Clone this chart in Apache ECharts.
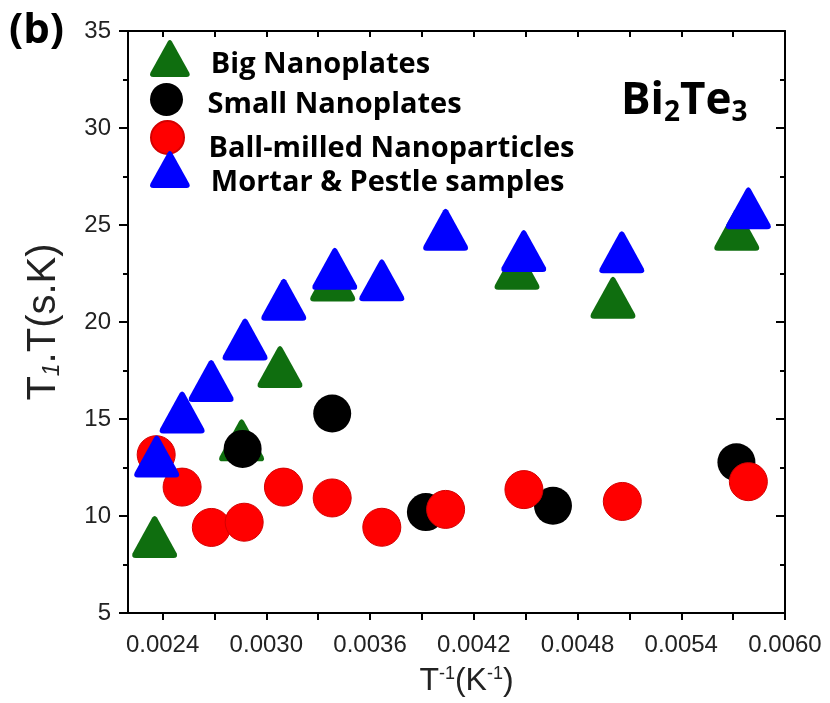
<!DOCTYPE html>
<html>
<head>
<meta charset="utf-8">
<script src="https://cdn.jsdelivr.net/npm/echarts@6/dist/echarts.min.js"></script>
<style>
  html, body { margin: 0; padding: 0; background: #fff; }
  #chart { width: 830px; height: 703px; }
</style>
</head>
<body>
<div id="chart"></div>
<script>
// Inverse temperature (1/K) and T1·T (s·K) for each Bi2Te3 sample
const bigX   = [0.002354, 0.002857, 0.003079, 0.003384, 0.00445, 0.005005, 0.005721];
const bigY   = [8.92, 13.9, 17.68, 22.14, 22.75, 21.25, 24.76];

const smallX = [0.002863, 0.003381, 0.003923, 0.004658, 0.005719];
const smallY = [13.46, 15.28, 10.2, 10.53, 12.77];

const ballX  = [0.002363, 0.002513, 0.002682, 0.002872, 0.003099, 0.003381, 0.003668, 0.004037, 0.00449, 0.005059, 0.005788];
const ballY  = [13.16, 11.49, 9.41, 9.68, 11.49, 10.93, 9.42, 10.34, 11.36, 10.75, 11.77];

const mortarX = [0.002366, 0.002513, 0.002681, 0.002877, 0.003101, 0.003396, 0.003668, 0.004037, 0.004489, 0.005056, 0.005788];
const mortarY = [13.07, 15.34, 16.96, 19.1, 21.15, 22.74, 22.15, 24.76, 23.66, 23.6, 25.86];

const seriesNames = ['Big Nanoplates', 'Small Nanoplates', 'Ball-milled Nanoparticles', 'Mortar & Pestle samples'];

// Axis ticks
const xLabelTicks = [0.0024, 0.0030, 0.0036, 0.0042, 0.0048, 0.0054, 0.0060];
const xAllTicks = [0.0024, 0.0027, 0.0030, 0.0033, 0.0036, 0.0039, 0.0042, 0.0045, 0.0048, 0.0051, 0.0054, 0.0057, 0.0060];

const pairs = (xs, ys) => xs.map((x, i) => [x, ys[i]]);

// Triangle with softened corners
const triPath = 'path://M45,4 Q50,-3 55,4 L97,80 Q101,90 90,90 L10,90 Q-1,90 3,80 Z';

const GREEN = '#0f6e0f', BLACK = '#000000', RED = '#ff0000', BLUE = '#0000ff';
const axisColor = '#000';
const labelFont = 'Liberation Sans, Arial, sans-serif';
const legendFont = 'Open Sans, sans-serif';

// One legend block per entry; `drop` lowers the label below its symbol's centre
// by pairing it with an invisible taller spacer token.
function legendRow(name, icon, top, h, drop) {
  return {
    data: [{ name: name, icon: icon }],
    left: 150, top: top, padding: 0,
    itemWidth: 40, itemHeight: h,
    selectedMode: false,
    formatter: n => '{t|' + n + '}{sp| }',
    textStyle: {
      padding: [0, 0, 0, 16],
      rich: {
        t: { fontFamily: legendFont, fontWeight: 'bold', fontSize: 29, lineHeight: 30, color: '#000', verticalAlign: 'bottom' },
        sp: { fontSize: 2, width: 0, height: 30 + 2 * drop, verticalAlign: 'bottom' }
      }
    }
  };
}

const chart = echarts.init(document.getElementById('chart'), null, { renderer: 'canvas' });

chart.setOption({
  animation: false,
  backgroundColor: '#fff',
  grid: { left: 128, right: 45, top: 31, bottom: 90 },
  legend: [
    legendRow(seriesNames[0], triPath, 40, 37, 6),
    legendRow(seriesNames[1], 'circle', 83, 33, 4.5),
    legendRow(seriesNames[2], 'circle', 120, 33, 11),
    legendRow(seriesNames[3], triPath, 151, 37, 13)
  ],
  graphic: [
    {
      type: 'text', left: 9, top: 10,
      style: { text: '(b)', font: 'bold 42px ' + legendFont, fill: '#000' }
    },
    {
      type: 'text', left: 621, top: 79,
      style: {
        text: '{n|Bi}{s|2}{n|Te}{s|3}',
        rich: {
          n: { fontFamily: legendFont, fontWeight: 'bold', fontSize: 44, fill: '#000', verticalAlign: 'bottom' },
          s: { fontFamily: legendFont, fontWeight: 'bold', fontSize: 28, fill: '#000', verticalAlign: 'bottom', padding: [0, 0, -4, 0] }
        }
      }
    }
  ],
  xAxis: [
    {
      type: 'value', position: 'bottom', min: 0.0022, max: 0.0060,
      splitLine: { show: false },
      axisLine: { show: true, onZero: false, lineStyle: { color: axisColor, width: 2 } },
      axisTick: { show: true, inside: false, length: 7, customValues: xAllTicks, lineStyle: { color: axisColor, width: 2 } },
      axisLabel: {
        customValues: xLabelTicks, margin: 20,
        fontFamily: labelFont, fontSize: 24, color: '#222',
        formatter: v => v.toFixed(4)
      },
      name: 'T{sup|-1}(K{sup|-1})',
      nameLocation: 'middle', nameGap: 52,
      nameTextStyle: {
        fontFamily: labelFont, fontSize: 32, color: '#222', padding: [0, 0, 0, 20],
        rich: { sup: { fontFamily: labelFont, fontSize: 18, color: '#222', verticalAlign: 'top' } }
      }
    },
    {
      type: 'value', position: 'top', min: 0.0022, max: 0.0060,
      splitLine: { show: false },
      axisLine: { show: true, onZero: false, lineStyle: { color: axisColor, width: 2 } },
      axisTick: { show: true, inside: true, length: 6, customValues: xAllTicks, lineStyle: { color: axisColor, width: 2 } },
      axisLabel: { show: false }
    }
  ],
  yAxis: [
    {
      type: 'value', position: 'left', min: 5, max: 35, interval: 5,
      splitLine: { show: false },
      axisLine: { show: true, onZero: false, lineStyle: { color: axisColor, width: 2 } },
      axisTick: { show: true, inside: false, length: 9, lineStyle: { color: axisColor, width: 2 } },
      minorTick: { show: true, splitNumber: 2, length: 5, lineStyle: { color: axisColor, width: 2 } },
      axisLabel: { margin: 17, fontFamily: labelFont, fontSize: 24, color: '#222' },
      name: 'T{sub|1}.T(s.K)',
      nameLocation: 'middle', nameGap: 64,
      nameTextStyle: {
        fontFamily: labelFont, fontSize: 40, color: '#222',
        rich: { sub: { fontFamily: labelFont, fontSize: 23, fontStyle: 'italic', color: '#222', verticalAlign: 'bottom' } }
      }
    },
    {
      type: 'value', position: 'right', min: 5, max: 35, interval: 5,
      splitLine: { show: false },
      axisLine: { show: true, onZero: false, lineStyle: { color: axisColor, width: 2 } },
      axisTick: { show: true, inside: true, length: 9, lineStyle: { color: axisColor, width: 2 } },
      minorTick: { show: true, splitNumber: 2, length: 5, lineStyle: { color: axisColor, width: 2 } },
      axisLabel: { show: false }
    }
  ],
  series: [
    {
      type: 'scatter', name: seriesNames[0], data: pairs(bigX, bigY),
      symbol: triPath, symbolSize: [45, 42],
      itemStyle: { color: GREEN, opacity: 1 }
    },
    {
      type: 'scatter', name: seriesNames[1], data: pairs(smallX, smallY),
      symbol: 'circle', symbolSize: 38,
      itemStyle: { color: BLACK, opacity: 1 }
    },
    {
      type: 'scatter', name: seriesNames[2], data: pairs(ballX, ballY),
      symbol: 'circle', symbolSize: 38,
      itemStyle: { color: RED, borderColor: '#d40000', borderWidth: 1, opacity: 1 }
    },
    {
      type: 'scatter', name: seriesNames[3], data: pairs(mortarX, mortarY),
      symbol: triPath, symbolSize: [45, 42],
      itemStyle: { color: BLUE, opacity: 1 }
    }
  ]
});
</script>
</body>
</html>
